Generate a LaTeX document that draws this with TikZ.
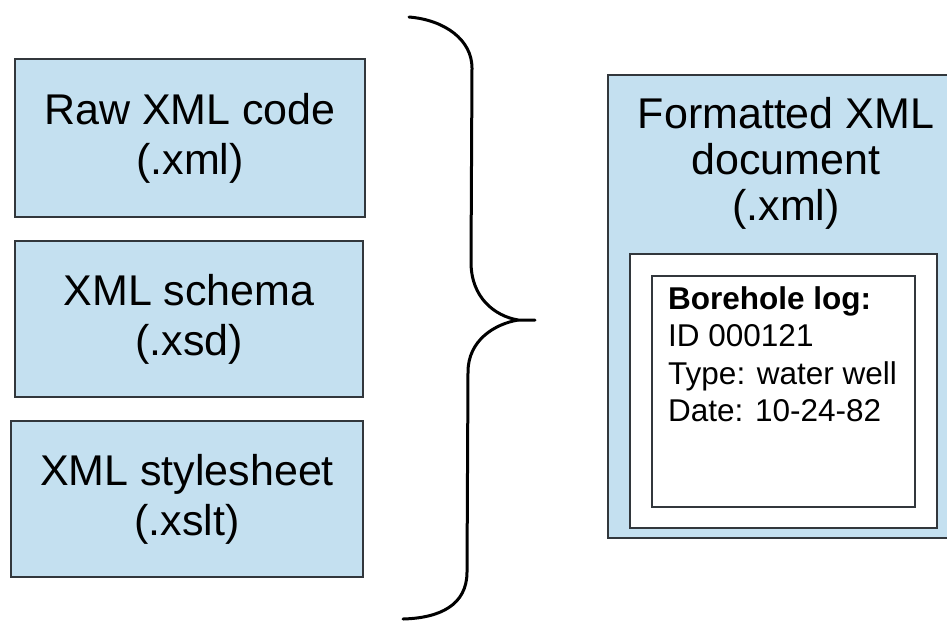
\documentclass[tikz,border=0pt]{standalone}
\usepackage{fontspec}
\setmainfont{Liberation Sans}
\definecolor{boxblue}{RGB}{196,224,240}
\definecolor{edgegray}{RGB}{50,55,60}
\begin{document}
\begin{tikzpicture}[x=1pt,y=-1pt,
  filebox/.style={draw=edgegray, line width=1.5pt, fill=boxblue, inner sep=0pt,
    align=center, font=\fontsize{43}{50}\selectfont},
  plainframe/.style={draw=edgegray, line width=1.5pt, fill=white},
  bracestyle/.style={draw=black, line width=3pt, line cap=round}]
\useasboundingbox (0,0) rectangle (947,622);
\fill[white] (0,0) rectangle (947,622);
% left boxes
\node[filebox, minimum width=350pt, minimum height=158pt] (raw) at (190,138) {Raw XML code\\(.xml)};
\node[filebox, minimum width=348pt, minimum height=156pt] (schema) at (189,319) {XML schema\\(.xsd)};
\node[filebox, minimum width=352pt, minimum height=156pt] (style) at (187,499) {XML stylesheet\\(.xslt)};
% brace
\coordinate (btop) at (409,17);
\coordinate (btip) at (535,320);
\coordinate (bbot) at (403,619);
\draw[bracestyle] (btop) .. controls (445,20) and (472,40) .. (472,68) -- (471,262)
  .. controls (471,298) and (495,316) .. (518,320) -- (btip);
\draw[bracestyle] (518,320) .. controls (495,324) and (468,340) .. (468,372) -- (467,572)
  .. controls (467,605) and (440,618) .. (bbot);
% right box
\node[draw=edgegray, line width=1.5pt, fill=boxblue, minimum width=352pt, minimum height=463pt, inner sep=0pt] (out) at (784,306.5) {};
\node[align=center, font=\fontsize{43}{46}\selectfont, inner sep=0pt] (outtitle) at (786,163) {Formatted XML\\document\\(.xml)};
\node[plainframe, minimum width=307pt, minimum height=274pt, inner sep=0pt] (page) at (783.5,391) {};
\node[plainframe, line width=1.2pt, minimum width=263pt, minimum height=231pt, inner sep=0pt] (log) at (783.5,391.5) {};
\node[anchor=north west, align=left, inner sep=0pt, font=\fontsize{31.5}{37.5}\selectfont] (logtext) at (668,286)
  {\textbf{Borehole log:}\\ID 000121\\Type: water well\\Date: 10-24-82};
\end{tikzpicture}
\end{document}
